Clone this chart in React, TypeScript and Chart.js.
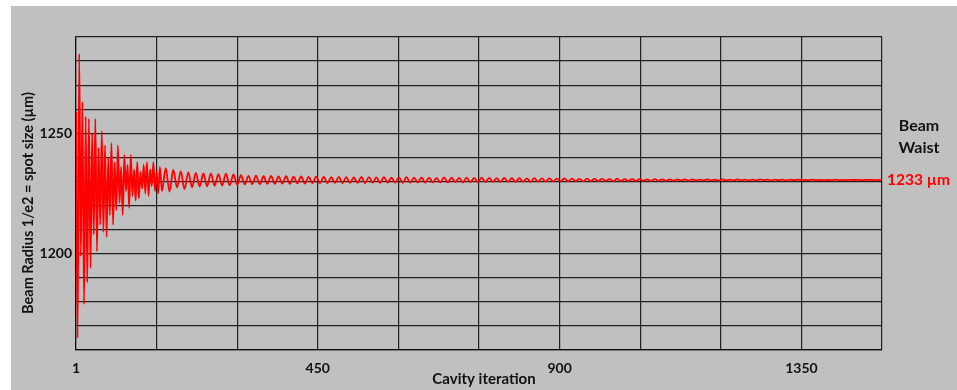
import React, { useEffect, useRef } from "react";
import { Chart, registerables } from "chart.js";

Chart.register(...registerables);

// ---- Data ----
// Early transient: one sample every 3 cavity iterations, starting at iteration 1
const earlyStart = 1;
const earlyStep = 3;
const earlyValues = [
  1259, 1165, 1283, 1199, 1263, 1179, 1257, 1188, 1256, 1194,
  1250, 1208, 1256, 1201, 1244, 1212, 1251, 1209, 1245, 1207,
  1240, 1216, 1246, 1212, 1238, 1218, 1245, 1221, 1236, 1216,
  1241, 1226, 1237, 1219, 1241, 1224, 1235, 1222, 1238, 1223,
  1234, 1227, 1237, 1225, 1238, 1224, 1235, 1228, 1238, 1226,
  1234, 1225, 1236,
];

// Damped oscillation: extrema every 7 iterations, starting at iteration 161
const lateStart = 161;
const lateStep = 7;
const lateValues = [
  1226.0, 1235.5, 1225.8, 1234.8, 1227.5, 1234.2, 1226.8, 1233.8, 1227.6, 1233.6,
  1227.9, 1233.3, 1228.0, 1233.4, 1228.2, 1233.0, 1228.3, 1233.2, 1228.4, 1232.9,
  1228.6, 1232.6, 1228.8, 1232.3, 1228.9, 1232.4, 1228.9, 1232.2, 1229.0, 1232.3,
  1229.0, 1232.1, 1229.1, 1232.2, 1229.0, 1232.0, 1229.2, 1232.1, 1229.1, 1231.9,
  1229.3, 1232.0, 1229.3, 1231.9, 1229.3, 1231.8, 1229.4, 1231.9, 1229.3, 1231.8,
  1229.4, 1231.7, 1229.4, 1231.9, 1229.3, 1231.8, 1229.5, 1231.7, 1229.4, 1231.8,
  1229.5, 1231.6, 1229.5, 1231.7, 1229.4, 1231.8, 1229.5, 1231.6, 1229.6, 1231.7,
  1229.5, 1231.6, 1229.6, 1231.5, 1229.6, 1231.7, 1229.6, 1231.6, 1229.7, 1231.5,
  1229.6, 1231.6, 1229.7, 1231.5, 1229.7, 1231.6, 1229.7, 1231.5, 1229.8, 1231.4,
  1229.8, 1231.5, 1229.8, 1231.4, 1229.8, 1231.4, 1229.9, 1231.3, 1229.8, 1231.4,
  1229.9, 1231.3, 1229.9, 1231.3, 1230.0, 1231.2, 1230.0, 1231.3, 1230.0, 1231.2,
  1230.1, 1231.1, 1230.0, 1231.2, 1230.1, 1231.1, 1230.1, 1231.1, 1230.2, 1231.0,
  1230.1, 1231.1, 1230.2, 1231.0, 1230.2, 1231.0, 1230.2, 1231.0, 1230.3, 1230.9,
  1230.2, 1231.0, 1230.3, 1230.9, 1230.3, 1230.9, 1230.3, 1230.9, 1230.4, 1230.9,
  1230.3, 1230.9, 1230.4, 1230.8, 1230.4, 1230.9, 1230.4, 1230.8, 1230.3, 1230.9,
  1230.4, 1230.8, 1230.4, 1230.9, 1230.4, 1230.8, 1230.4, 1230.8, 1230.4, 1230.9,
  1230.5, 1230.8, 1230.4, 1230.8, 1230.5, 1230.8, 1230.4, 1230.8, 1230.5, 1230.8,
  1230.5, 1230.7, 1230.5, 1230.8, 1230.5, 1230.7, 1230.5, 1230.7, 1230.5, 1230.8,
  1230.5, 1230.7, 1230.5, 1230.7, 1230.6, 1230.7, 1230.5, 1230.7, 1230.6, 1230.7,
  1230.5, 1230.7, 1230.6,
];

// Axes
const xMin = 1;
const xMax = 1501;
const xGridValues = [1, 151, 301, 451, 601, 751, 901, 1051, 1201, 1351, 1501];
const xLabelValues = [1, 451, 901, 1351];
const xLabelTexts = ["1", "450", "900", "1350"];

const yMin = 1160;
const yMax = 1290;
const yGridValues = [1160, 1170, 1180, 1190, 1200, 1210, 1220, 1230, 1240, 1250, 1260, 1270, 1280, 1290];
const yLabelValues = [1200, 1250];
const yLabelTexts = ["1200", "1250"];

const xTitle = "Cavity iteration";
const yTitle = "Beam Radius 1/e2 = spot size (µm)";
const annotTitle = ["Beam", "Waist"];
const annotValue = "1233 µm";

const FONT = "Lato, 'Open Sans', sans-serif";

export default function App() {
  const canvasRef = useRef<HTMLCanvasElement | null>(null);

  useEffect(() => {
    if (!canvasRef.current) return;
    const points: { x: number; y: number }[] = [];
    earlyValues.forEach((v, i) => points.push({ x: earlyStart + i * earlyStep, y: v }));
    lateValues.forEach((v, j) => points.push({ x: lateStart + j * lateStep, y: v }));

    const decor = {
      id: "decor",
      beforeDraw(chart: any) {
        const { ctx, width, height } = chart;
        ctx.save();
        ctx.fillStyle = "#ffffff";
        ctx.fillRect(0, 0, width, height);
        ctx.fillStyle = "#c0c0c0";
        ctx.fillRect(11, 6, width - 11, height - 6);
        ctx.restore();
      },
      afterDraw(chart: any) {
        const { ctx, chartArea } = chart;
        const xs = chart.scales.x;
        const ys = chart.scales.y;
        ctx.save();
        ctx.fillStyle = "#111111";
        ctx.font = `bold 14px ${FONT}`;
        ctx.textBaseline = "middle";
        // y tick labels
        ctx.textAlign = "right";
        yLabelValues.forEach((v, i) => {
          ctx.fillText(yLabelTexts[i], chartArea.left - 4, ys.getPixelForValue(v));
        });
        // x tick labels
        ctx.textAlign = "center";
        xLabelValues.forEach((v, i) => {
          ctx.fillText(xLabelTexts[i], xs.getPixelForValue(v), chartArea.bottom + 18);
        });
        // x title
        ctx.font = `bold 15px ${FONT}`;
        ctx.fillText(xTitle, 484, chartArea.bottom + 29);
        // y title
        ctx.save();
        ctx.translate(28, 203);
        ctx.rotate(-Math.PI / 2);
        ctx.font = `bold 14.5px ${FONT}`;
        ctx.fillText(yTitle, 0, 0);
        ctx.restore();
        // annotation
        ctx.font = `bold 16px ${FONT}`;
        ctx.fillStyle = "#111111";
        ctx.fillText(annotTitle[0], 919, 126);
        ctx.fillText(annotTitle[1], 919, 148);
        ctx.fillStyle = "#ff0000";
        ctx.textAlign = "left";
        ctx.font = `bold 15.5px ${FONT}`;
        ctx.fillText(annotValue, chartArea.right + 5, 180);
        ctx.restore();
      },
    };

    const gridColor = "rgba(15,15,15,0.9)";
    const chart = new Chart(canvasRef.current, {
      type: "line",
      data: {
        datasets: [
          {
            data: points,
            borderColor: "#ff0000",
            borderWidth: 1.8,
            pointRadius: 0,
            fill: false,
            cubicInterpolationMode: "monotone",
          },
        ],
      },
      options: {
        animation: false,
        responsive: true,
        maintainAspectRatio: false,
        layout: { padding: { left: 76, top: 37, right: 75, bottom: 40 } },
        plugins: { legend: { display: false }, tooltip: { enabled: false } },
        scales: {
          x: {
            type: "linear",
            min: xMin,
            max: xMax,
            afterBuildTicks: (scale: any) => {
              scale.ticks = xGridValues.map((v) => ({ value: v }));
            },
            ticks: { display: false },
            grid: { color: gridColor, lineWidth: 1.2, drawTicks: false },
            border: { display: true, color: gridColor, width: 1.2 },
          },
          y: {
            type: "linear",
            min: yMin,
            max: yMax,
            afterBuildTicks: (scale: any) => {
              scale.ticks = yGridValues.map((v) => ({ value: v }));
            },
            ticks: { display: false },
            grid: { color: gridColor, lineWidth: 1.2, drawTicks: false },
            border: { display: true, color: gridColor, width: 1.2 },
          },
        },
      },
      plugins: [decor],
    });
    return () => chart.destroy();
  }, []);

  return (
    <div style={{ position: "fixed", left: 0, top: 0, width: 957, height: 390 }}>
      <canvas ref={canvasRef} />
    </div>
  );
}
